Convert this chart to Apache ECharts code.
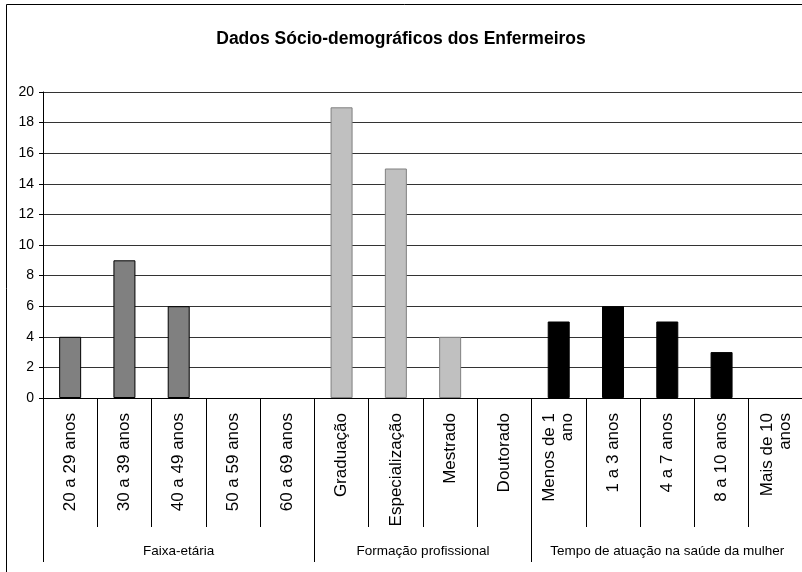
<!DOCTYPE html>
<html>
<head>
<meta charset="utf-8">
<script src="https://cdn.jsdelivr.net/npm/echarts@6/dist/echarts.min.js"></script>
<style>
  body { margin: 0; background: #fff; }
  #chart { width: 802px; height: 572px; }
</style>
</head>
<body>
<div id="chart"></div>
<script>
// categories of each group
var faixaEtaria = ['20 a 29 anos', '30 a 39 anos', '40 a 49 anos', '50 a 59 anos', '60 a 69 anos'];
var formacao = ['Graduação', 'Especialização', 'Mestrado', 'Doutorado'];
var tempoAtuacao = ['Menos de 1\nano', '1 a 3 anos', '4 a 7 anos', '8 a 10 anos', 'Mais de 10\nanos'];
var groupNames = ['Faixa-etária', 'Formação profissional', 'Tempo de atuação na saúde da mulher'];

// values
var faixaValues = [4, 9, 6, 0, 0];
var formacaoValues = [19, 15, 4, 0];
var tempoValues = [5, 6, 5, 3, 0];

var yTicks = [0, 2, 4, 6, 8, 10, 12, 14, 16, 18, 20];

var groups = [faixaEtaria, formacao, tempoAtuacao];
var groupValues = [faixaValues, formacaoValues, tempoValues];
var colors = ['#808080', '#c0c0c0', '#000000'];
var borders = ['#000000', '#808080', '#000000'];

var categories = [].concat(faixaEtaria, formacao, tempoAtuacao);

// boundaries and centres of groups on a 0..n scale
var bounds = [0];
groups.forEach(function (g) { bounds.push(bounds[bounds.length - 1] + g.length); });
var centres = groupNames.map(function (n, i) { return (bounds[i] + bounds[i + 1]) / 2; });
var catBounds = [];
for (var i = 0; i <= categories.length; i++) catBounds.push(i);

var series = groupValues.map(function (vals, gi) {
  var data = categories.map(function () { return '-'; });
  vals.forEach(function (v, j) {
    data[bounds[gi] + j] = v === 0 ? { value: 0, itemStyle: { borderWidth: 0 } } : v;
  });
  return {
    type: 'bar',
    data: data,
    barWidth: 22,
    barGap: '-100%',
    itemStyle: { color: colors[gi], borderColor: borders[gi], borderWidth: 1 },
    silent: true
  };
});

var font = 'Liberation Sans, Arial, sans-serif';

var option = {
  animation: false,
  backgroundColor: '#fff',
  title: {
    text: 'Dados Sócio-demográficos dos Enfermeiros',
    left: 'center',
    top: 25,
    textStyle: { fontFamily: font, fontSize: 17.5, fontWeight: 'bold', color: '#000' }
  },
  graphic: [{
    type: 'rect',
    shape: { x: 6.5, y: 4.5, width: 900, height: 700 },
    style: { fill: 'none', stroke: '#000', lineWidth: 1 }
  }],
  grid: { left: 43, top: 92, width: 760, height: 306, outerBoundsMode: 'none', containLabel: false },
  xAxis: [{
    type: 'category',
    data: categories,
    axisLine: { lineStyle: { color: '#000', width: 1 } },
    axisTick: { show: false },
    axisLabel: {
      interval: 0, rotate: 90, margin: 15, color: '#000',
      fontFamily: font, fontSize: 17, lineHeight: 18
    }
  }, {
    type: 'value',
    min: 0,
    max: categories.length,
    position: 'bottom',
    axisLine: { show: false },
    splitLine: { show: false },
    axisTick: { show: true, customValues: catBounds, length: 129, lineStyle: { color: '#000' } },
    axisLabel: { show: false }
  }, {
    type: 'value',
    min: 0,
    max: categories.length,
    position: 'bottom',
    axisLine: { show: false },
    splitLine: { show: false },
    axisTick: { show: true, customValues: bounds, length: 164, lineStyle: { color: '#000' } },
    axisLabel: {
      customValues: centres,
      margin: 146,
      color: '#000',
      fontFamily: font,
      fontSize: 13.5,
      formatter: function (v) { return groupNames[centres.indexOf(v)]; }
    }
  }],
  yAxis: {
    type: 'value',
    min: yTicks[0],
    max: yTicks[yTicks.length - 1],
    interval: 2,
    axisLine: { show: true, lineStyle: { color: '#000' } },
    axisTick: { show: true, length: 4, lineStyle: { color: '#000' } },
    axisLabel: { color: '#000', fontFamily: font, fontSize: 14, margin: 9 },
    splitLine: { lineStyle: { color: '#333', width: 1 } }
  },
  series: series
};

var chart = echarts.init(document.getElementById('chart'));
chart.setOption(option);
</script>
</body>
</html>
